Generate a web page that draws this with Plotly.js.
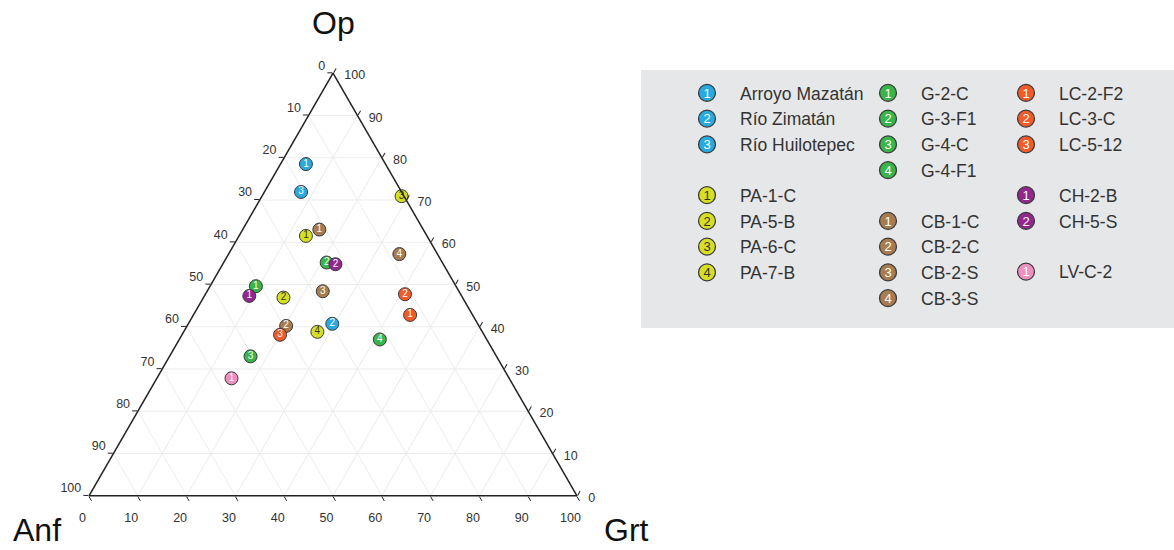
<!DOCTYPE html>
<html>
<head>
<meta charset="utf-8">
<script src="https://cdn.plot.ly/plotly-3.0.1.min.js"></script>
<style>
  html, body { margin: 0; padding: 0; background: #ffffff; }
  #chart { width: 1174px; height: 550px; }
</style>
</head>
<body>
<div id="chart"></div>
<script>
// ---- data ----
const sampleNames = [
  'Arroyo Mazatán', 'Río Zimatán', 'Río Huilotepec',
  'PA-1-C', 'PA-5-B', 'PA-6-C', 'PA-7-B',
  'G-2-C', 'G-3-F1', 'G-4-C', 'G-4-F1',
  'CB-1-C', 'CB-2-C', 'CB-2-S', 'CB-3-S',
  'LC-2-F2', 'LC-3-C', 'LC-5-12',
  'CH-2-B', 'CH-5-S',
  'LV-C-2'
];
const sampleNums = [
  '1', '2', '3',
  '1', '2', '3', '4',
  '1', '2', '3', '4',
  '1', '2', '3', '4',
  '1', '2', '3',
  '1', '2',
  '1'
];
const sampleGroup = [
  'rio', 'rio', 'rio',
  'pa', 'pa', 'pa', 'pa',
  'g', 'g', 'g', 'g',
  'cb', 'cb', 'cb', 'cb',
  'lc', 'lc', 'lc',
  'ch', 'ch',
  'lv'
];
// Op (top corner), Anf (bottom-left corner), Grt (bottom-right corner), in %
const opVals  = [78.5, 40.7, 71.9,  61.5, 46.9, 70.9, 38.8,  49.6, 55.2, 33.0, 37.0,  63.0, 40.2, 48.4, 57.2,  42.8, 47.7, 38.1,  47.3, 54.8,  27.8];
const anfVals = [16.3, 29.8, 20.6,  24.8, 36.7,  0.5, 33.8,  41.0, 23.7, 50.4, 21.9,  21.3, 39.5, 27.9,  7.8,  12.8, 11.4, 41.8,  43.5, 22.1,  56.9];
const grtVals = [ 5.2, 29.5,  7.5,  13.7, 16.4, 28.6, 27.4,   9.4, 21.1, 16.6, 41.1,  15.7, 20.3, 23.7, 35.0,  44.4, 40.9, 20.1,   9.2, 23.1,  15.3];
const tickVals = [0, 10, 20, 30, 40, 50, 60, 70, 80, 90, 100];
const tickText = ['100', '90', '80', '70', '60', '50', '40', '30', '20', '10', '0'];
const cornerLabels = ['Op', 'Anf', 'Grt'];

// ---- styles ----
const groupStyle = {
  rio: {color: '#27a9e1', text: '#ffffff', legend: 'legend'},
  pa:  {color: '#d7df23', text: '#333333', legend: 'legend'},
  g:   {color: '#39b54a', text: '#ffffff', legend: 'legend2'},
  cb:  {color: '#a97c50', text: '#ffffff', legend: 'legend2'},
  lc:  {color: '#f15a29', text: '#ffffff', legend: 'legend3'},
  ch:  {color: '#92278f', text: '#ffffff', legend: 'legend3'},
  lv:  {color: '#ee8fbf', text: '#ffffff', legend: 'legend3'}
};
const FONT = 'Liberation Sans, Arial, Helvetica, sans-serif';

const traces = sampleNames.map((name, i) => {
  const st = groupStyle[sampleGroup[i]];
  return {
    type: 'scatterternary',
    mode: 'markers+text',
    name: name,
    a: [opVals[i]],
    b: [anfVals[i]],
    c: [grtVals[i]],
    text: [sampleNums[i]],
    textposition: 'middle center',
    textfont: {family: FONT, size: 10, color: st.text},
    marker: {size: 13, color: st.color, line: {color: '#3a3a3a', width: 1}, opacity: 1},
    legendgroup: sampleGroup[i],
    legend: st.legend,
    cliponaxis: false,
    hoverinfo: 'name'
  };
});

function axis() {
  return {
    title: {text: ''},
    min: 0,
    tickmode: 'array',
    tickvals: tickVals,
    ticktext: tickText,
    tickfont: {family: FONT, size: 12.5, color: '#333333'},
    ticks: 'outside',
    ticklen: 5,
    tickcolor: '#222222',
    linecolor: '#222222',
    linewidth: 1.5,
    showgrid: true,
    gridcolor: '#ececec',
    gridwidth: 1
  };
}

const legendBase = {
  bgcolor: 'rgba(0,0,0,0)',
  borderwidth: 0,
  font: {family: FONT, size: 17.5, color: '#333333'},
  traceorder: 'grouped',
  tracegroupgap: 25,
  itemwidth: 56,
  itemsizing: 'trace',
  xanchor: 'left',
  yanchor: 'top',
  y: 1 - 75 / 550
};

const titleFont = {family: FONT, size: 32, color: '#111111'};

const layout = {
  width: 1174,
  height: 550,
  margin: {l: 0, r: 0, t: 0, b: 0},
  paper_bgcolor: '#ffffff',
  font: {family: FONT},
  showlegend: true,
  ternary: {
    domain: {x: [89 / 1174, 577 / 1174], y: [1 - 496 / 550, 1 - 73 / 550]},
    sum: 100,
    bgcolor: '#ffffff',
    aaxis: axis(),
    baxis: axis(),
    caxis: axis()
  },
  legend: Object.assign({}, legendBase, {x: 674 / 1174}),
  legend2: Object.assign({}, legendBase, {x: 855 / 1174}),
  legend3: Object.assign({}, legendBase, {x: 993 / 1174}),
  annotations: [
    {text: cornerLabels[0], xref: 'paper', yref: 'paper', x: 333 / 1174, y: 1 - 23 / 550,
     xanchor: 'center', yanchor: 'middle', showarrow: false, font: titleFont},
    {text: cornerLabels[1], xref: 'paper', yref: 'paper', x: 37 / 1174, y: 0,
     xanchor: 'center', yanchor: 'bottom', showarrow: false, font: titleFont},
    {text: cornerLabels[2], xref: 'paper', yref: 'paper', x: 626 / 1174, y: 0,
     xanchor: 'center', yanchor: 'bottom', showarrow: false, font: titleFont}
  ],
  shapes: [{
    type: 'rect', xref: 'paper', yref: 'paper',
    x0: 641 / 1174, x1: 1, y0: 1 - 328 / 550, y1: 1 - 70 / 550,
    fillcolor: '#e6e7e8', line: {width: 0}, layer: 'below'
  }]
};

function shiftLabels(layerClass, dx, dy) {
  document.querySelectorAll('.' + layerClass + ' text').forEach(t => {
    const parent = t.parentNode;
    if (!parent || !parent.getScreenCTM) return;
    const m = parent.getScreenCTM();
    if (!m) return;
    const inv = m.inverse();
    const vx = inv.a * dx + inv.c * dy;
    const vy = inv.b * dx + inv.d * dy;
    const tf = t.getAttribute('transform') || '';
    t.setAttribute('transform', 'translate(' + vx + ',' + vy + ') ' + tf);
  });
}

Plotly.newPlot('chart', traces, layout, {displayModeBar: false, staticPlot: true}).then(gd => {
  // tick labels sit a little further from the edges in the reference
  shiftLabels('aaxis', 0, -6);
  shiftLabels('baxis', -9, 5);
  shiftLabels('caxis', 6, 8);
  // put each sample's number inside its (slightly enlarged) legend symbol
  const NS = 'http://www.w3.org/2000/svg';
  document.querySelectorAll('g.traces').forEach(g => {
    const d = g.__data__;
    if (!d || !d[0] || !d[0].trace) return;
    const tr = d[0].trace;
    const pts = g.querySelector('.legendpoints');
    if (!pts) return;
    const path = pts.querySelector('path.scatterpts');
    let tf = '';
    if (path) {
      tf = path.getAttribute('transform') || '';
      path.setAttribute('transform', tf + ' scale(1.3)');
    }
    const t = document.createElementNS(NS, 'text');
    t.setAttribute('transform', tf);
    t.setAttribute('text-anchor', 'middle');
    t.setAttribute('dy', '0.36em');
    t.setAttribute('style', 'font-family:' + FONT + ';font-size:13px;fill:' + tr.textfont.color + ';');
    t.textContent = tr.text[0];
    pts.appendChild(t);
  });
});
</script>
</body>
</html>
